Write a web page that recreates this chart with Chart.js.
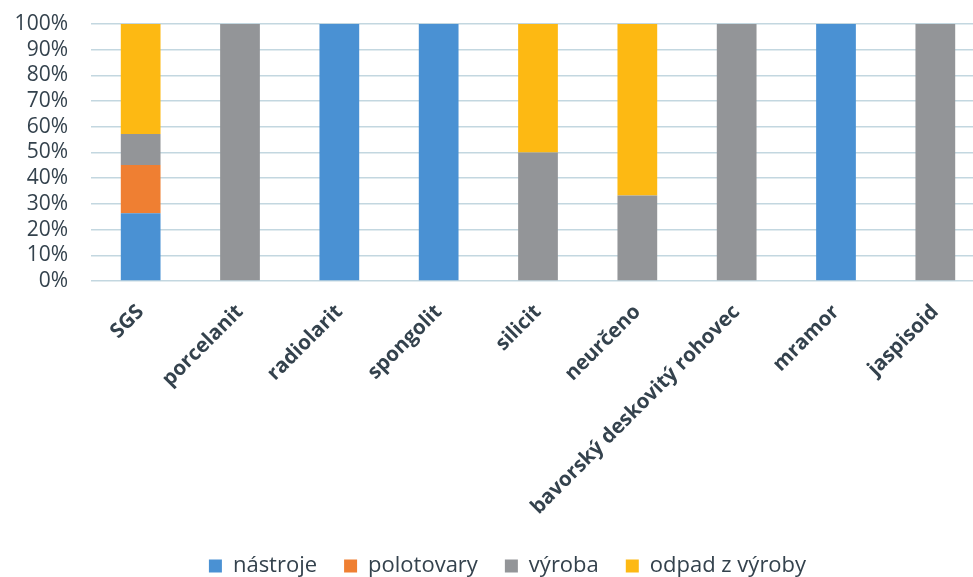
<!DOCTYPE html>
<html>
<head>
<meta charset="utf-8">
<script src="https://cdn.jsdelivr.net/npm/chart.js@4.4.1/dist/chart.umd.min.js"></script>
<style>
  html, body { margin: 0; padding: 0; background: #ffffff; overflow: hidden; }
  #wrap { width: 973px; height: 577px; overflow: hidden; }
  canvas { display: block; }
</style>
</head>
<body>
<div id="wrap"><canvas id="chart" width="985" height="577"></canvas></div>
<script>
// Raw material categories (x axis)
const categories = ['SGS', 'porcelanit', 'radiolarit', 'spongolit', 'silicit', 'neurčeno', 'bavorský deskovitý rohovec', 'mramor', 'jaspisoid'];

// Share of each artefact group per raw material, in percent
const nastroje    = [26.4,   0, 100, 100,  0,    0,   0, 100,   0];
const polotovary  = [18.7,   0,   0,   0,  0,    0,   0,   0,   0];
const vyroba      = [12.1, 100,   0,   0, 50, 33.3, 100,   0, 100];
const odpadVyroby = [42.8,   0,   0,   0, 50, 66.7,   0,   0,   0];

// Y axis tick values
const yTicks = [0, 10, 20, 30, 40, 50, 60, 70, 80, 90, 100];

const seriesNames = ['nástroje', 'polotovary', 'výroba', 'odpad z výroby'];
const seriesColors = ['#4a91d3', '#ef7f32', '#939598', '#fdb913'];
const seriesData = [nastroje, polotovary, vyroba, odpadVyroby];

const textColor = '#34424d';

// move the legend to its spot under the plot
const legendShift = {
  id: 'legendShift',
  afterLayout(chart) {
    const lg = chart.legend;
    if (lg) {
      lg.left += 15; lg.right += 15;
      lg.top += 10; lg.bottom += 10;
    }
  }
};

new Chart(document.getElementById('chart'), {
  type: 'bar',
  data: {
    labels: categories,
    datasets: seriesNames.map((name, i) => ({
      label: name,
      data: seriesData[i],
      backgroundColor: seriesColors[i],
      borderWidth: 0,
      categoryPercentage: 1.0,
      barPercentage: 0.4
    }))
  },
  options: {
    responsive: false,
    animation: false,
    layout: { padding: { top: 24, left: 0, right: 0, bottom: 0 } },
    plugins: {
      tooltip: { enabled: false },
      legend: {
        position: 'bottom',
        labels: {
          color: textColor,
          font: { family: '"Open Sans", sans-serif', size: 22 },
          boxWidth: 13,
          boxHeight: 13,
          padding: 27
        }
      }
    },
    scales: {
      x: {
        stacked: true,
        grid: { display: false, drawTicks: false },
        border: { display: false },
        ticks: {
          color: textColor,
          font: { family: '"Open Sans", sans-serif', size: 20.5, weight: 'bold' },
          minRotation: 45,
          maxRotation: 45,
          padding: 19,
          autoSkip: false
        },
        afterFit(scale) { scale.height = 237; }
      },
      y: {
        stacked: true,
        min: 0,
        max: 100,
        afterBuildTicks(scale) { scale.ticks = yTicks.map(v => ({ value: v })); },
        grid: { color: '#c3d7e0', lineWidth: 1.5, drawTicks: false },
        border: { display: false },
        ticks: {
          color: textColor,
          font: { family: '"Open Sans", sans-serif', size: 21 },
          padding: 23,
          autoSkip: false,
          callback: v => v + '%'
        },
        afterFit(scale) {
          scale.width = 91;
          scale.paddingTop = 0;
          scale.paddingBottom = 0;
        }
      }
    }
  },
  plugins: [legendShift]
});
</script>
</body>
</html>
